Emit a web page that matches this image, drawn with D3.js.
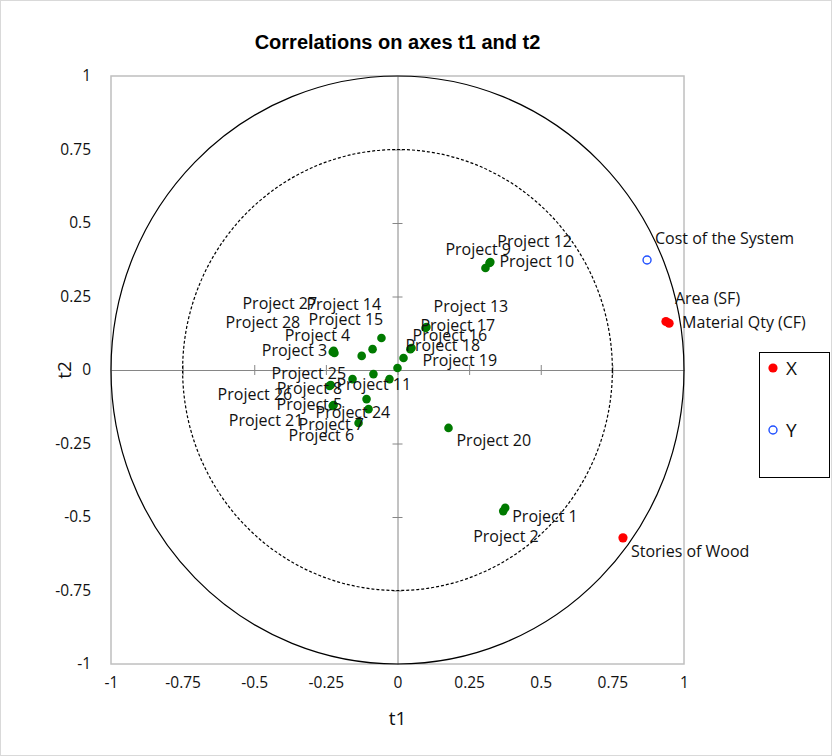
<!DOCTYPE html>
<html>
<head>
<meta charset="utf-8">
<script src="https://cdn.jsdelivr.net/npm/d3@7"></script>
<style>
  html, body { margin: 0; padding: 0; background: #fff; }
  svg { display: block; }
</style>
</head>
<body>
<svg id="chart" width="832" height="756"></svg>
<script>
// Correlation circle: observations (projects) and variables on axes t1 / t2.
const tickValues = [-1, -0.75, -0.5, -0.25, 0, 0.25, 0.5, 0.75, 1];
const tickLabels = ["-1", "-0.75", "-0.5", "-0.25", "0", "0.25", "0.5", "0.75", "1"];

const projectNames = [
  "Project 1", "Project 2", "Project 3", "Project 4", "Project 5", "Project 6", "Project 7",
  "Project 8", "Project 9", "Project 10", "Project 11", "Project 12", "Project 13", "Project 14",
  "Project 15", "Project 16", "Project 17", "Project 18", "Project 19", "Project 20", "Project 21",
  "Project 22", "Project 23", "Project 24", "Project 25", "Project 26", "Project 27", "Project 28"
];
const projectT1 = [
  0.376, 0.369, -0.226, -0.125, -0.223, -0.101, -0.136,
  -0.233, 0.307, 0.321, -0.084, 0.324, 0.098, -0.056,
  -0.087, 0.049, 0.101, 0.045, 0.021, 0.178, -0.226,
  -0.028, 0.000, -0.108, -0.157, -0.237, -0.220, -0.223
];
const projectT2 = [
  -0.469, -0.480, 0.061, 0.048, -0.119, -0.133, -0.180,
  -0.051, 0.347, 0.364, -0.014, 0.367, 0.143, 0.109,
  0.071, 0.075, 0.146, 0.071, 0.041, -0.197, -0.122,
  -0.031, 0.007, -0.099, -0.031, -0.054, 0.058, 0.065
];
// Label placement (pixel offset of the text start from its point); null = label hidden
const projectLabelOffsets = [
  [7, 14], [-30, 31], [-71, 4], [-77, -15], [-57, 5], [-80, 32], [-60, 7],
  [-54, 9], [-40, -13], [10, 4], [-37, 16], [7, -15], [8, -16], [-75, -28],
  [-64, -24], [1, -7], [-6, 4], [-5, 2], [19, 8], [8, 18], [-104, 20],
  null, null, [-51, 19], [-81, 0], [-112, 14], [-92, -44], [-108, -23]
];

const variableNames = ["Cost of the System", "Area (SF)", "Material Qty (CF)", "Stories of Wood"];
const variableGroup = ["Y", "X", "X", "X"];
const variableT1 = [0.871, 0.937, 0.948, 0.787];
const variableT2 = [0.374, 0.165, 0.159, -0.571];
const variableLabelOffsets = [[8, -16], [9, -17], [13, 5], [8, 19]];

const legendGroups = ["X", "Y"];

const svg = d3.select("#chart");
const W = 832, H = 756;
const plot = { left: 111, right: 684, top: 76, bottom: 664 };

const x = d3.scaleLinear().domain([-1, 1]).range([plot.left, plot.right]);
const y = d3.scaleLinear().domain([-1, 1]).range([plot.bottom, plot.top]);

const labelFont = "'Open Sans', 'Noto Sans', sans-serif";

// outer chart border
svg.append("rect")
  .attr("x", 0.5).attr("y", 0.5).attr("width", W - 1).attr("height", H - 1)
  .attr("fill", "#fff").attr("stroke", "#d9d9d9");

// title
svg.append("text")
  .attr("x", x(0)).attr("y", 49)
  .attr("text-anchor", "middle")
  .attr("font-family", "'Liberation Sans', Arial, sans-serif")
  .attr("font-weight", "bold").attr("font-size", 20)
  .text("Correlations on axes t1 and t2");

// plot frame
svg.append("rect")
  .attr("x", plot.left).attr("y", plot.top)
  .attr("width", plot.right - plot.left).attr("height", plot.bottom - plot.top)
  .attr("fill", "none").attr("stroke", "#bfbfbf").attr("stroke-width", 1.5);

// central axes with cross ticks
const xAxisMid = svg.append("g")
  .attr("transform", `translate(0,${y(0)})`)
  .call(d3.axisBottom(x).tickValues(tickValues).tickFormat("").tickSizeOuter(0));
const yAxisMid = svg.append("g")
  .attr("transform", `translate(${x(0)},0)`)
  .call(d3.axisLeft(y).tickValues(tickValues).tickFormat("").tickSizeOuter(0));
xAxisMid.selectAll(".tick line").attr("y1", -5).attr("y2", 5);
yAxisMid.selectAll(".tick line").attr("x1", -5).attr("x2", 5);
[xAxisMid, yAxisMid].forEach(g => {
  g.selectAll("path, line").attr("stroke", "#868686").attr("stroke-width", 1);
  g.selectAll(".tick").filter(d => Math.abs(d) === 1).remove();
});

// tick labels along the frame
const fmt = d => tickLabels[tickValues.indexOf(d)];
const xAxisLab = svg.append("g")
  .attr("transform", `translate(0,${plot.bottom + 10})`)
  .call(d3.axisBottom(x).tickValues(tickValues).tickFormat(fmt).tickSize(0));
const yAxisLab = svg.append("g")
  .attr("transform", `translate(${plot.left - 17},0)`)
  .call(d3.axisLeft(y).tickValues(tickValues).tickFormat(fmt).tickSize(0));
[xAxisLab, yAxisLab].forEach(g => {
  g.select(".domain").remove();
  g.selectAll("text")
    .attr("font-family", labelFont).attr("font-size", 15.5).attr("fill", "#111");
});

// axis titles
svg.append("text")
  .attr("x", x(0)).attr("y", 725)
  .attr("text-anchor", "middle")
  .attr("font-family", labelFont).attr("font-size", 19).attr("fill", "#111")
  .text("t1");
svg.append("text")
  .attr("transform", `translate(71,${y(0)}) rotate(-90)`)
  .attr("text-anchor", "middle")
  .attr("font-family", labelFont).attr("font-size", 19).attr("fill", "#111")
  .text("t2");

// unit circle and 0.75 circle
[[1, null], [0.75, "3,2"]].forEach(([r, dash]) => {
  svg.append("ellipse")
    .attr("cx", x(0)).attr("cy", y(0))
    .attr("rx", x(r) - x(0)).attr("ry", y(0) - y(r))
    .attr("fill", "none").attr("stroke", "#000").attr("stroke-width", 1.2)
    .attr("stroke-dasharray", dash);
});

// projects
const projects = projectNames.map((name, i) => ({
  name, t1: projectT1[i], t2: projectT2[i], off: projectLabelOffsets[i]
}));
svg.append("g").selectAll("circle").data(projects).join("circle")
  .attr("cx", d => x(d.t1)).attr("cy", d => y(d.t2))
  .attr("r", 4.3).attr("fill", "#007a00");
svg.append("g").selectAll("text").data(projects.filter(d => d.off)).join("text")
  .attr("x", d => x(d.t1) + d.off[0]).attr("y", d => y(d.t2) + d.off[1])
  .attr("font-family", labelFont).attr("font-size", 16).attr("fill", "#111")
  .text(d => d.name);

// variables
const variables = variableNames.map((name, i) => ({
  name, group: variableGroup[i], t1: variableT1[i], t2: variableT2[i], off: variableLabelOffsets[i]
}));
const drawMarker = (sel, group) => {
  if (group === "X") sel.attr("r", 4.6).attr("fill", "#ff0000").attr("stroke", "none");
  else sel.attr("r", 4).attr("fill", "#fff").attr("stroke", "#1f4fff").attr("stroke-width", 1.4);
};
svg.append("g").selectAll("circle").data(variables).join("circle")
  .attr("cx", d => x(d.t1)).attr("cy", d => y(d.t2))
  .each(function (d) { drawMarker(d3.select(this), d.group); });
svg.append("g").selectAll("text").data(variables).join("text")
  .attr("x", d => x(d.t1) + d.off[0]).attr("y", d => y(d.t2) + d.off[1])
  .attr("font-family", labelFont).attr("font-size", 16).attr("fill", "#111")
  .text(d => d.name);

// legend
const legend = svg.append("g");
legend.append("rect")
  .attr("x", 759.5).attr("y", 352.5).attr("width", 70).attr("height", 125)
  .attr("fill", "#fff").attr("stroke", "#000").attr("stroke-width", 1);
legendGroups.forEach((g, i) => {
  const cy = 368 + i * 62;
  legend.append("circle").attr("cx", 773).attr("cy", cy)
    .call(sel => drawMarker(sel, g));
  legend.append("text")
    .attr("x", 786).attr("y", cy + 7)
    .attr("font-family", labelFont).attr("font-size", 19).attr("fill", "#111")
    .text(g);
});
</script>
</body>
</html>
